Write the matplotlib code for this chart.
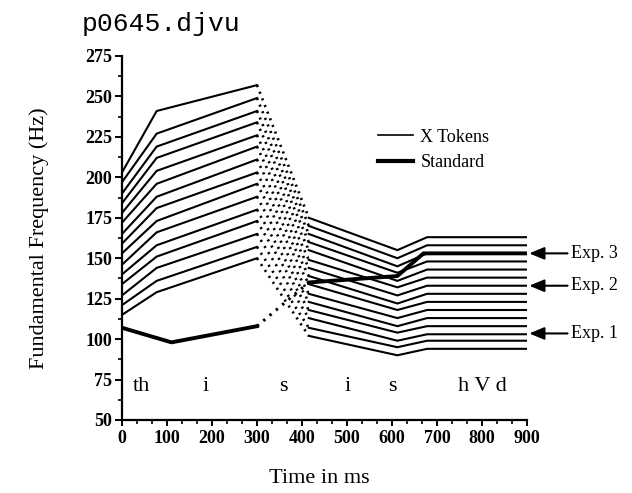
import matplotlib.pyplot as plt
from matplotlib.ticker import MultipleLocator
from matplotlib.lines import Line2D

plt.rcParams['font.family'] = ['Liberation Serif', 'DejaVu Serif']

# time points (ms) of the contour corners
t_first = [0, 77, 300]          # solid part ("th i")
t_gap = [300, 415]              # dotted part ("s")
t_last = [415, 612, 678, 900]   # solid part ("i s hVd")

# F0 (Hz) of the 15 X tokens at each corner, top token first
tok_0 = [203, 197, 190, 184, 178, 172, 165, 159, 153, 146, 140, 134, 127, 121, 115]
tok_77 = [241, 227, 219, 212, 204, 196, 188, 181, 173, 166, 158, 151, 144, 136, 129]
tok_300 = [257, 249, 241, 234, 226, 219, 211, 203, 196, 188, 180, 173, 165, 157, 150]
tok_415 = [175, 170, 165, 160, 155, 149, 144, 139, 134, 128, 123, 118, 113, 107, 102]
tok_612 = [155, 150, 145, 141, 136, 132, 127, 122, 118, 113, 108, 104, 99, 95, 90]
tok_678 = [163, 158, 153, 148, 143, 138, 133, 128, 123, 118, 113, 108, 103, 99, 94]
tok_900 = [163, 158, 153, 148, 143, 138, 133, 128, 123, 118, 113, 108, 103, 99, 94]

# the standard contour
std_t_first = [0, 110, 300]
std_first = [107, 98, 108]
std_t_gap = [300, 415]
std_gap = [108, 135]
std_t_last = [415, 612, 670, 900]
std_last = [135, 139, 153, 153]

# arrows on the right
exp_labels = ['Exp. 3', 'Exp. 2', 'Exp. 1']
exp_f0 = [153, 133, 103.5]

# segment labels along the bottom
seg_labels = ['th', 'i', 's', 'i', 's', 'h V d']
seg_t = [44, 185, 358, 502, 600, 800]

fig = plt.figure(figsize=(6.32, 4.93), dpi=100)
ax = fig.add_axes([122 / 632, (493 - 420) / 493, 405 / 632, (420 - 56) / 493])

dots = (0, (0.8, 1.9))

# tokens
for i in range(len(tok_0)):
    ax.plot(t_first, [tok_0[i], tok_77[i], tok_300[i]], color='black', lw=1.5,
            solid_joinstyle='miter')
    ax.plot(t_gap, [tok_300[i], tok_415[i]], color='black', lw=1.9, linestyle=dots)
    ax.plot(t_last, [tok_415[i], tok_612[i], tok_678[i], tok_900[i]], color='black', lw=1.5,
            solid_joinstyle='miter')

# standard
ax.plot(std_t_first, std_first, color='black', lw=2.8)
ax.plot(std_t_gap, std_gap, color='black', lw=2.2, linestyle=dots)
ax.plot(std_t_last, std_last, color='black', lw=2.8)

for lab, t in zip(seg_labels, seg_t):
    ax.text(t, 71, lab, ha='center', va='center', fontsize=16)

for lab, v in zip(exp_labels, exp_f0):
    ax.annotate('', xy=(905, v), xytext=(990, v),
                arrowprops=dict(arrowstyle='-|>,head_length=0.6,head_width=0.25',
                                color='black', lw=1.5, mutation_scale=15,
                                shrinkA=0, shrinkB=0),
                annotation_clip=False)
    ax.text(998, v, lab, ha='left', va='center', fontsize=13, clip_on=False)

handles = [Line2D([], [], color='black', lw=1.2), Line2D([], [], color='black', lw=3)]
ax.legend(handles, ['X Tokens', 'Standard'], loc='upper left',
          bbox_to_anchor=(0.632, 0.80), frameon=False, fontsize=13,
          handlelength=1.95, handletextpad=0.4, labelspacing=0.45,
          borderpad=0, borderaxespad=0)

ax.set_xlim(0, 900)
ax.set_ylim(50, 275)
ax.xaxis.set_major_locator(MultipleLocator(100))
ax.xaxis.set_minor_locator(MultipleLocator(100 / 3))
ax.yaxis.set_major_locator(MultipleLocator(25))
ax.yaxis.set_minor_locator(MultipleLocator(12.5))

for s in ['top', 'right']:
    ax.spines[s].set_visible(False)
for s in ['left', 'bottom']:
    ax.spines[s].set_linewidth(1.6)

ax.tick_params(axis='both', which='major', direction='out', width=1.4, labelsize=13)
ax.tick_params(axis='y', which='major', length=5, pad=2)
ax.tick_params(axis='y', which='minor', length=3, width=1.2)
ax.tick_params(axis='x', which='major', length=4, pad=3)
ax.tick_params(axis='x', which='minor', length=3, width=1.2)
for lbl in ax.get_xticklabels() + ax.get_yticklabels():
    lbl.set_fontweight('bold')

ax.set_ylabel('Fundamental Frequency (Hz)', fontsize=16)
ax.yaxis.set_label_coords(-0.18, 0.5)
ax.set_xlabel('Time in ms', fontsize=16, va='top')
ax.xaxis.set_label_coords(0.486, -0.135)

fig.text(82 / 632, (493 - 31) / 493, 'p0645.djvu', family='Liberation Mono',
         fontsize=19, va='baseline', ha='left')

fig.savefig('out.png', dpi=100)
